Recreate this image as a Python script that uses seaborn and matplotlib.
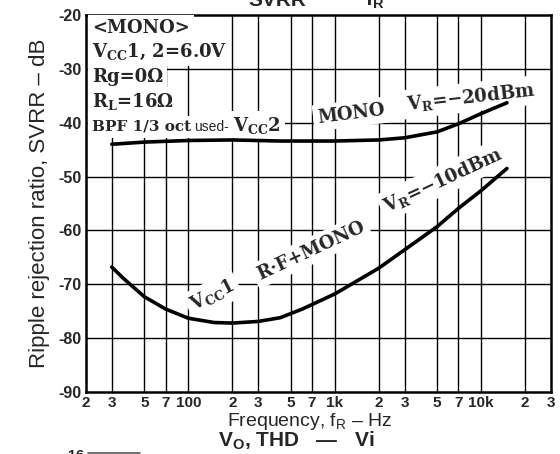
import numpy as np
import pandas as pd
import matplotlib.pyplot as plt
import seaborn as sns
from matplotlib.lines import Line2D

# curve: MONO, V_R = -20dBm
freq_upper = [30, 50, 100, 200, 425, 1000, 2000, 3000, 5000, 7000, 10000, 15000]
svrr_upper = [-44.0, -43.6, -43.3, -43.2, -43.4, -43.4, -43.2, -42.8, -41.7, -40.2, -38.3, -36.3]

# curve: Vcc1 R.F+MONO, V_R = -10dBm
freq_lower = [30, 36, 50, 70, 100, 150, 200, 300, 425, 600, 1000, 2000, 3000, 5000, 7000, 10000, 15000]
svrr_lower = [-66.8, -68.9, -72.3, -74.6, -76.3, -77.1, -77.2, -76.9, -76.2, -74.6, -71.8,
              -67.0, -63.6, -59.3, -55.9, -52.6, -48.5]

xtick_pos = [20, 30, 50, 70, 100, 200, 300, 500, 700, 1000, 2000, 3000, 5000, 7000, 10000, 20000, 30000]
xtick_lab = ['2', '3', '5', '7', '100', '2', '3', '5', '7', '1k', '2', '3', '5', '7', '10k', '2', '3']
ytick_pos = [-20, -30, -40, -50, -60, -70, -80, -90]
ytick_lab = ['-20', '-30', '-40', '-50', '-60', '-70', '-80', '-90']

df = pd.concat([
    pd.DataFrame({'f': freq_upper, 'svrr': svrr_upper, 'curve': 'upper'}),
    pd.DataFrame({'f': freq_lower, 'svrr': svrr_lower, 'curve': 'lower'}),
])

sns.set_style('white')
plt.rcParams['font.family'] = ['Liberation Sans', 'DejaVu Sans']
plt.rcParams['axes.unicode_minus'] = False
plt.rcParams['mathtext.fontset'] = 'custom'
plt.rcParams['mathtext.rm'] = 'DejaVu Serif:bold'
plt.rcParams['mathtext.sf'] = 'Liberation Sans'
plt.rcParams['mathtext.bf'] = 'Liberation Sans:bold'

W, H = 560, 454
fig = plt.figure(figsize=(5.6, 4.54), dpi=100)
ax = fig.add_axes([86 / W, 1 - 392 / H, (551 - 86) / W, (392 - 15) / H])

sns.lineplot(data=df, x='f', y='svrr', hue='curve', palette=['black', 'black'],
             linewidth=2.6, legend=False, ax=ax, sort=False, zorder=5)

ax.set_xscale('log')
ax.set_xlim(20, 30000)
ax.set_ylim(-90, -20)
ax.set_xticks(xtick_pos)
ax.set_xticklabels(xtick_lab, fontsize=11, fontweight='bold')
ax.xaxis.set_minor_locator(plt.NullLocator())
ax.set_yticks(ytick_pos)
ax.set_yticklabels(ytick_lab, fontsize=11.5, fontweight='bold')
ax.tick_params(axis='both', length=0, pad=3)

for f in xtick_pos[1:-1]:
    ax.axvline(f, color='black', lw=1.0, zorder=1)
for v in ytick_pos[1:-1]:
    ax.axhline(v, color='black', lw=1.0, zorder=1)
for s in ax.spines.values():
    s.set_linewidth(1.8)
    s.set_color('black')

ax.set_xlabel('')
ax.set_ylabel('Ripple rejection ratio, SVRR – dB', fontsize=16, labelpad=6)
fig.text(310 / W, 1 - 426 / H, r'Frequency, f$_\mathsf{R}$ – Hz', fontsize=14,
         ha='center', va='baseline')


def px(x, y):
    return ((x - 86) / 465, (392 - y) / 377)


mask = dict(facecolor='white', edgecolor='none', pad=3)
serif = dict(fontfamily='DejaVu Serif', fontweight='bold', fontsize=13, transform=ax.transAxes,
             zorder=3, va='baseline', ha='left', bbox=mask)

ax.text(*px(92, 33), '<MONO>', **serif)
ax.text(*px(92, 57), r'$\mathrm{V_{CC}}$1, 2=6.0V', **serif)
ax.text(*px(92, 82), 'Rg=0Ω', **serif)
ax.text(*px(92, 107), r'$\mathrm{R_L}$=16Ω', **serif)
ax.text(*px(92, 131), 'BPF 1/3 oct', **dict(serif, fontsize=11))
ax.text(*px(194, 131), 'used-', fontsize=10, transform=ax.transAxes, zorder=3,
        va='baseline', ha='left', bbox=dict(mask, pad=1))
ax.text(*px(233, 131), r'$\mathrm{V_{CC}}$2', **serif)

rot = dict(serif, rotation_mode='anchor')
ax.text(*px(318, 123), 'MONO', rotation=7, **rot)
ax.text(*px(407, 110), r'$\mathrm{V_R}$=−20dBm', rotation=6.5, **rot)
ax.text(*px(194, 311), r'$\mathrm{V_{CC}}$1', rotation=27, **rot)
ax.text(*px(260, 280), 'R·F+MONO', rotation=25, **rot)
ax.text(*px(387, 212), r'$\mathrm{V_R}$=−10dBm', rotation=25, **rot)

# cropped neighbours of the scanned page
fig.text(248 / W, 1 - 6 / H, 'SVRR', fontsize=15, fontweight='bold', va='baseline')
fig.text(365 / W, 1 - 6 / H, r'$\mathbf{f_R}$', fontsize=15, va='baseline')
fig.text(218 / W, 1 - 447 / H, r'$\mathbf{V_O}$, THD   —   Vi', fontsize=15,
         fontweight='bold', va='baseline')
fig.text(63 / W, 1 - 449 / H, '-16', fontsize=10.5, fontweight='bold', va='top')
fig.add_artist(Line2D([88 / W, 140 / W], [1 - 453 / H, 1 - 453 / H], color='0.35', lw=1.2))

fig.savefig('out.png', dpi=100)
